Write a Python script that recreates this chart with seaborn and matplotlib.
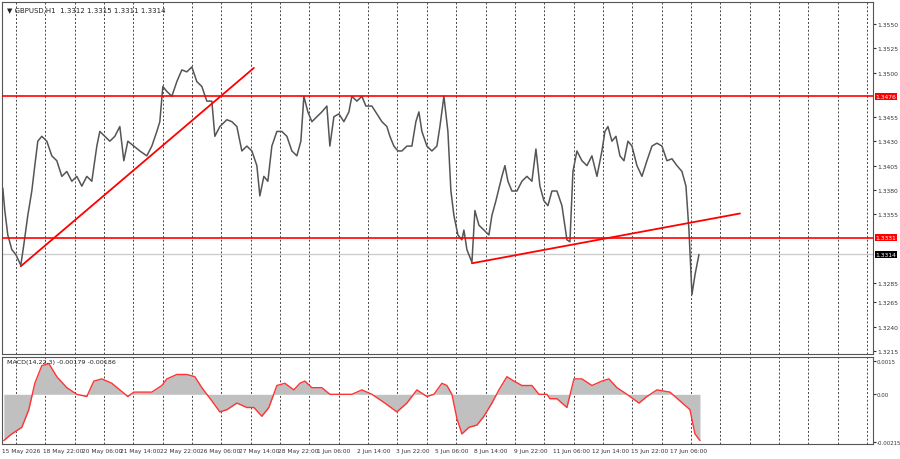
import matplotlib
matplotlib.use('Agg')
import matplotlib.pyplot as plt
import numpy as np
import pandas as pd
import seaborn as sns

# price path (bar index, close)
bars = [1, 3, 6, 10, 14, 19, 22, 26, 30, 33, 36, 40, 45, 50, 55, 60, 65, 70, 75, 80, 85, 90, 95, 98,
        103, 108, 113, 118, 122, 126, 132, 138, 145, 150, 155, 158, 161, 165, 170, 175, 180, 185, 190,
        195, 200, 205, 210, 213, 218, 225, 230, 235, 240, 245, 250, 255, 258, 262, 266, 270, 275, 280,
        285, 290, 295, 299, 302, 306, 310, 315, 320, 325, 328, 332, 337, 342, 347, 350, 355, 360, 364,
        370, 375, 380, 385, 388, 392, 396, 400, 405, 410, 414, 417, 420, 425, 430, 435, 438, 442, 446,
        449, 452, 456, 460, 462, 465, 470, 473, 477, 482, 487, 490, 494, 500, 503, 506, 510, 515, 520,
        525, 530, 534, 538, 542, 546, 550, 555, 560, 565, 568, 571, 575, 580, 585, 590, 595, 600, 603,
        606, 610, 614, 618, 622, 626, 630, 635, 640, 645, 650, 655, 660, 665, 670, 675, 680, 684, 687,
        690, 693, 697]
closes = [1.3382, 1.3359, 1.3334, 1.3319, 1.3314, 1.3303, 1.3324, 1.3354, 1.3379, 1.3405, 1.3430,
          1.3435, 1.3430, 1.3415, 1.3410, 1.3394, 1.3399, 1.3389, 1.3394, 1.3384, 1.3394, 1.3389,
          1.3425, 1.3440, 1.3435, 1.3430, 1.3435, 1.3445, 1.3410, 1.3430, 1.3425, 1.3420, 1.3415,
          1.3425, 1.3440, 1.3450, 1.3486, 1.3481, 1.3476, 1.3491, 1.3503, 1.3501, 1.3506, 1.3491,
          1.3486, 1.3471, 1.3471, 1.3435, 1.3445, 1.3452, 1.3450, 1.3445, 1.3420, 1.3425, 1.3420,
          1.3405, 1.3374, 1.3394, 1.3389, 1.3425, 1.3440, 1.3440, 1.3435, 1.3420, 1.3415, 1.3430,
          1.3476, 1.3460, 1.3450, 1.3455, 1.3460, 1.3466, 1.3425, 1.3455, 1.3458, 1.3450, 1.3460,
          1.3476, 1.3471, 1.3476, 1.3466, 1.3466, 1.3458, 1.3450, 1.3445, 1.3435, 1.3425, 1.3420,
          1.3420, 1.3425, 1.3425, 1.3450, 1.3460, 1.3440, 1.3425, 1.3420, 1.3425, 1.3445, 1.3476,
          1.3440, 1.3379, 1.3354, 1.3334, 1.3329, 1.3339, 1.3319, 1.3306, 1.3359, 1.3344, 1.3339,
          1.3334, 1.3354, 1.3369, 1.3394, 1.3405, 1.3389, 1.3379, 1.3379, 1.3389, 1.3394, 1.3389,
          1.3422, 1.3384, 1.3369, 1.3364, 1.3379, 1.3379, 1.3364, 1.3329, 1.3327, 1.3399, 1.3420,
          1.3410, 1.3405, 1.3415, 1.3394, 1.3420, 1.3440, 1.3445, 1.3430, 1.3435, 1.3415, 1.3410,
          1.3430, 1.3425, 1.3405, 1.3394, 1.3410, 1.3425, 1.3428, 1.3425, 1.3410, 1.3412, 1.3405,
          1.3399, 1.3384, 1.3339, 1.3273, 1.3293, 1.3314]

# MACD histogram / signal
macd_bars = [2, 10, 20, 27, 33, 40, 47, 55, 65, 75, 85, 92, 100, 110, 118, 126, 132, 140, 150, 160,
             165, 175, 185, 193, 200, 210, 218, 225, 235, 245, 252, 260, 267, 275, 283, 292, 298, 303,
             310, 320, 328, 340, 350, 360, 370, 383, 395, 405, 415, 425, 432, 440, 445, 450, 455, 460,
             467, 475, 482, 490, 497, 505, 512, 520, 530, 537, 545, 548, 555, 565, 572, 580, 590, 600,
             607, 615, 625, 637, 645, 655, 668, 678, 688, 693, 698]
macd_vals = [-0.0021, -0.0018, -0.0015, -0.0007, 0.0005, 0.0013, 0.0014, 0.0008, 0.0003, 0.0000,
             -0.0001, 0.0006, 0.0007, 0.0005, 0.0002, -0.0001, 0.0001, 0.0001, 0.0001, 0.0004, 0.0007,
             0.0009, 0.0009, 0.0008, 0.0003, -0.0003, -0.0008, -0.0007, -0.0004, -0.0006, -0.0006,
             -0.0010, -0.0006, 0.0004, 0.0005, 0.0002, 0.0005, 0.0006, 0.0003, 0.0003, 0.0000, 0.0000,
             0.0000, 0.0002, 0.0000, -0.0004, -0.0008, -0.0004, 0.0002, -0.0001, 0.0000, 0.0005,
             0.0004, 0.0000, -0.0011, -0.0018, -0.0015, -0.0014, -0.0010, -0.0004, 0.0002, 0.0008,
             0.0006, 0.0004, 0.0004, 0.0000, 0.0000, -0.0002, -0.0002, -0.0006, 0.0007, 0.0007, 0.0004,
             0.0006, 0.0007, 0.0003, 0.0000, -0.0004, -0.0001, 0.0002, 0.0001, -0.0003, -0.0007,
             -0.0018, -0.0021]

levels = [1.3476, 1.3331]
last_price = 1.3314
trend1 = ([19, 252], [1.3302, 1.3505])
trend2 = ([470, 738], [1.3305, 1.3356])

price_ticks = [1.3550, 1.3525, 1.3500, 1.3455, 1.3430, 1.3405, 1.3380, 1.3355,
               1.3285, 1.3265, 1.3240, 1.3215]
time_pos = [0, 41, 80, 118, 158, 198, 237, 276, 315, 355, 394, 433, 472, 512, 551, 590, 629, 668]
time_labels = ['15 May 2026', '18 May 22:00', '20 May 06:00', '21 May 14:00', '22 May 22:00',
               '26 May 06:00', '27 May 14:00', '28 May 22:00', '1 Jun 06:00', '2 Jun 14:00',
               '3 Jun 22:00', '5 Jun 06:00', '8 Jun 14:00', '9 Jun 22:00', '11 Jun 06:00',
               '12 Jun 14:00', '15 Jun 22:00', '17 Jun 06:00']

sns.set_style('white')
plt.rcParams['font.family'] = ['DejaVu Sans']
fig = plt.figure(figsize=(9, 4.6), dpi=100)
ax = fig.add_axes([0.002, 0.228, 0.968, 0.765])
ax2 = fig.add_axes([0.002, 0.033, 0.968, 0.189])

grid_x = 14 + 29.35 * np.arange(30)
for a in (ax, ax2):
    a.set_xlim(0, 871)
    for gx in grid_x:
        a.axvline(gx, color='#444444', lw=0.7, ls=(0, (2, 2)), zorder=0)
    for s in a.spines.values():
        s.set_color('#555555')
        s.set_linewidth(0.8)
    a.yaxis.tick_right()
    a.tick_params(axis='y', labelsize=4.3, length=2, pad=1, colors='#333333')

price = pd.DataFrame({'bar': bars, 'close': closes})
ax.axhline(last_price, color='#cccccc', lw=1, zorder=1)
sns.lineplot(data=price, x='bar', y='close', ax=ax, color='#555555', lw=1.1, zorder=2)
for lv in levels:
    ax.axhline(lv, color='red', lw=1.2, zorder=3)
ax.plot(*trend1, color='red', lw=1.3, zorder=3)
ax.plot(*trend2, color='red', lw=1.3, zorder=3)
ax.set_ylim(1.3212, 1.35723)
ax.set_yticks(price_ticks)
ax.set_yticklabels([f'{t:.4f}' for t in price_ticks])
ax.set_xticks([])
ax.set_xlabel('')
ax.set_ylabel('')
for val, fc in [(1.3476, 'red'), (1.3331, 'red'), (1.3314, 'black')]:
    ax.text(1.003, val, f'{val:.4f}', transform=ax.get_yaxis_transform(), fontsize=4.3,
            color='white', va='center', ha='left',
            bbox=dict(boxstyle='square,pad=0.15', fc=fc, ec='none'))
ax.text(0.006, 0.985, '\u25bc GBPUSD,H1  1.3312 1.3315 1.3311 1.3314', transform=ax.transAxes,
        fontsize=5, va='top', ha='left', color='#222222')

macd = pd.DataFrame({'bar': macd_bars, 'val': macd_vals})
ax2.fill_between(macd['bar'], 0, macd['val'], color='#c0c0c0', lw=0)
sns.lineplot(data=macd, x='bar', y='val', ax=ax2, color='#ff3333', lw=1)
ax2.set_ylim(-0.00225, 0.0017)
ax2.set_yticks([0.0015, 0.0, -0.00215])
ax2.set_yticklabels(['0.0015', '0.00', '-0.00215'])
ax2.tick_params(axis='y', labelsize=3.9, pad=0.5)
ax2.set_xticks(time_pos)
ax2.set_xticklabels(time_labels, ha='left')
ax2.tick_params(axis='x', labelsize=4.2, length=0, pad=3, colors='#333333')
ax2.set_xlabel('')
ax2.set_ylabel('')
ax2.text(0.006, 0.97, 'MACD(14,22,3) -0.00179 -0.00186', transform=ax2.transAxes,
         fontsize=4.6, va='top', ha='left', color='#222222')

fig.savefig('out.png', dpi=100)
